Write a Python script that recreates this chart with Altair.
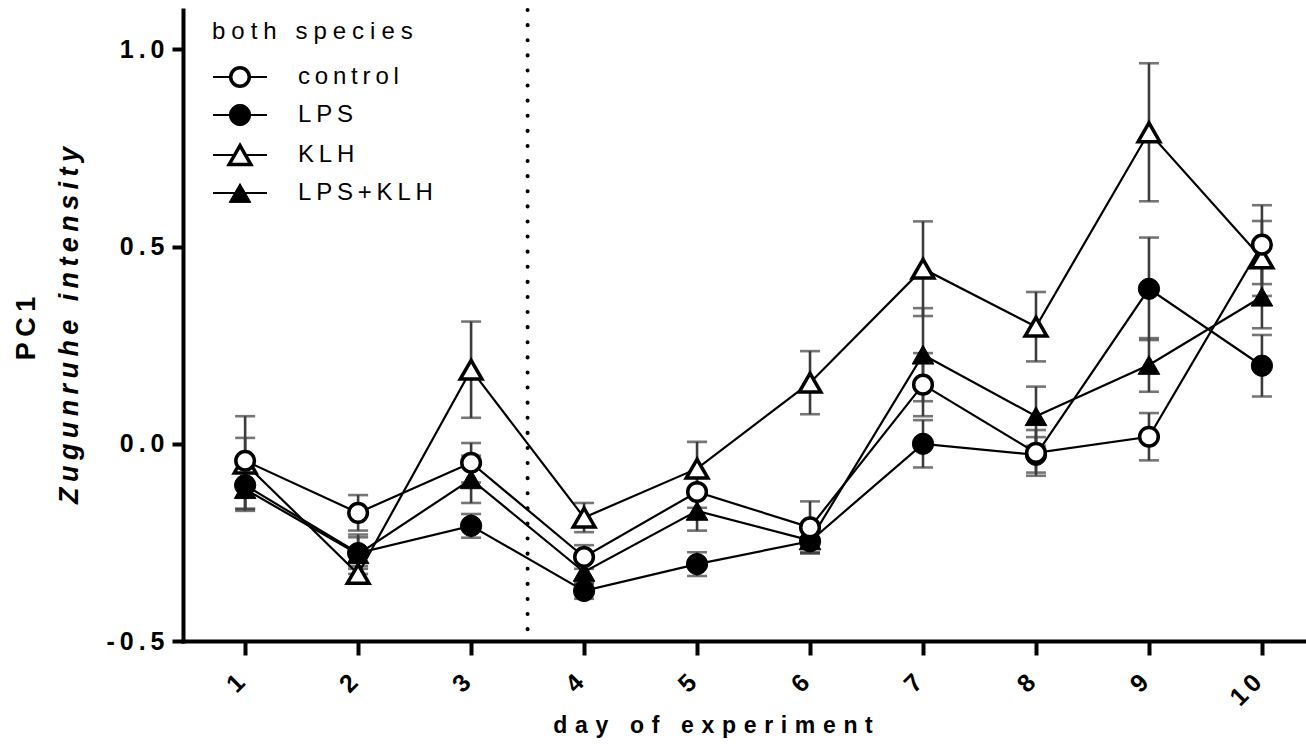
import altair as alt
import pandas as pd

# ---- data: PC1 (Zugunruhe intensity), mean and SE per day of experiment ----
days = [1, 2, 3, 4, 5, 6, 7, 8, 9, 10]
groups = ["control", "LPS", "KLH", "LPS+KLH"]

control_mean = [-0.043, -0.175, -0.048, -0.287, -0.122, -0.212, 0.150, -0.023, 0.018, 0.505]
control_se = [0.058, 0.045, 0.050, 0.030, 0.040, 0.066, 0.080, 0.058, 0.060, 0.100]
lps_mean = [-0.105, -0.277, -0.208, -0.373, -0.305, -0.247, 0.000, -0.028, 0.393, 0.198]
lps_se = [0.060, 0.040, 0.030, 0.020, 0.030, 0.030, 0.060, 0.045, 0.130, 0.078]
klh_mean = [-0.050, -0.330, 0.188, -0.187, -0.063, 0.155, 0.444, 0.297, 0.790, 0.470]
klh_se = [0.120, 0.020, 0.122, 0.037, 0.068, 0.080, 0.120, 0.088, 0.175, 0.095]
combo_mean = [-0.115, -0.280, -0.090, -0.325, -0.170, -0.245, 0.226, 0.070, 0.200, 0.373]
combo_se = [0.050, 0.050, 0.060, 0.030, 0.050, 0.030, 0.118, 0.075, 0.068, 0.080]

treatment_day = [3.5]   # dotted separator between days 3 and 4

y_ticks = [-0.5, 0.0, 0.5, 1.0]

means = [control_mean, lps_mean, klh_mean, combo_mean]
ses = [control_se, lps_se, klh_se, combo_se]

rows = []
for g, m_list, s_list in zip(groups, means, ses):
    for d, m, s in zip(days, m_list, s_list):
        rows.append({"day": d, "group": g, "mean": m, "se": s})
df = pd.DataFrame(rows)

# ---- styling ----
FONT = "Liberation Sans"
W, H = 1123, 631
ERR = "#3c3c3c"

# letter-spacing emulation with narrow Unicode spaces
SP_THIN = "\u2009"
SP_4PEM = "\u2005"
SP_3PEM = "\u2004"


def spaced(text, gap):
    return gap.join(text)


# marker style per group: shape, fill, size, stroke width
styles = {
    "control": dict(shape="circle", fill="white", size=346, strokeWidth=3.5),
    "LPS": dict(shape="circle", fill="black", size=452, strokeWidth=1),
    "KLH": dict(shape="triangle-up", fill="white", size=470, strokeWidth=3.5),
    "LPS+KLH": dict(shape="triangle-up", fill="black", size=470, strokeWidth=1),
}
# markers are stacked so that the open circles end up on top
draw_order = ["KLH", "LPS+KLH", "LPS", "control"]

x_scale = alt.Scale(domain=[0.45, 10.39], nice=False, zero=False)
y_scale = alt.Scale(domain=[-0.5, 1.1], nice=False, zero=False)

x_axis = alt.Axis(
    values=days,
    title=None,
    grid=False,
    labelExpr=f"join(split(toString(datum.value), ''), '{SP_THIN}')",
    labelAngle=315,
    labelAlign="right",
    labelBaseline="middle",
    labelPadding=23,
    labelOffset=-5,
    labelFont=FONT,
    labelFontSize=25,
    labelFontWeight="bold",
    labelColor="black",
    tickSize=14,
    tickWidth=4,
    tickColor="black",
    domainWidth=4,
    domainColor="black",
    domainCap="square",
)
y_axis = alt.Axis(
    values=y_ticks,
    title=None,
    grid=False,
    labelExpr=(
        "join(split((datum.value < 0 ? '-' : '') + format(abs(datum.value), '.1f'), ''), "
        f"'{SP_THIN}')"
    ),
    labelPadding=8,
    labelFont=FONT,
    labelFontSize=25,
    labelFontWeight="bold",
    labelColor="black",
    tickSize=11,
    tickWidth=4,
    tickColor="black",
    domainWidth=4,
    domainColor="black",
    domainCap="square",
)

X = alt.X("day:Q", scale=x_scale, axis=x_axis)


def Y(field):
    return alt.Y(f"{field}:Q", scale=y_scale, axis=y_axis)


base = alt.Chart(df).transform_calculate(
    lo="datum.mean - datum.se", hi="datum.mean + datum.se"
)

# error bars (stem + caps)
err_stem = base.mark_rule(color=ERR, strokeWidth=2.6).encode(
    x=X, y=Y("lo"), y2="hi:Q"
)
err_caps = (
    base.transform_fold(["lo", "hi"], as_=["end", "val"])
    .mark_tick(orient="horizontal", size=20, thickness=2.6, color=ERR)
    .encode(x=X, y=Y("val"))
)

# connecting lines
lines = base.mark_line(color="black", strokeWidth=2.2).encode(
    x=X, y=Y("mean"), detail="group:N"
)

# markers
point_layers = []
for g in draw_order:
    st = styles[g]
    point_layers.append(
        base.transform_filter(alt.datum.group == g)
        .mark_point(
            shape=st["shape"],
            filled=True,
            fill=st["fill"],
            stroke="black",
            strokeWidth=st["strokeWidth"],
            size=st["size"],
            opacity=1,
        )
        .encode(x=X, y=Y("mean"))
    )

# dotted separator at the treatment day
separator = (
    alt.Chart(pd.DataFrame({"day": treatment_day}))
    .mark_rule(color="black", strokeWidth=4, strokeDash=[0.1, 15], strokeCap="round")
    .encode(x=X)
)

# ---- legend (drawn inside the plot, top-left) ----
legend_layers = [
    alt.Chart(pd.DataFrame({"t": [spaced("both species", SP_4PEM)]}))
    .mark_text(align="left", baseline="middle", font=FONT, fontSize=24, color="black")
    .encode(x=alt.value(29), y=alt.value(22), text="t:N")
]
row_y = [67, 105, 145, 183]
for g, ry in zip(groups, row_y):
    st = styles[g]
    one = pd.DataFrame({"label": [spaced(g, SP_THIN)]})
    legend_layers.append(
        alt.Chart(one)
        .mark_rule(color="black", strokeWidth=2.2)
        .encode(x=alt.value(30), x2=alt.value(84), y=alt.value(ry))
    )
    legend_layers.append(
        alt.Chart(one)
        .mark_point(
            shape=st["shape"],
            filled=True,
            fill=st["fill"],
            stroke="black",
            strokeWidth=st["strokeWidth"],
            size=st["size"],
            opacity=1,
        )
        .encode(x=alt.value(57), y=alt.value(ry))
    )
    legend_layers.append(
        alt.Chart(one)
        .mark_text(align="left", baseline="middle", font=FONT, fontSize=24, color="black")
        .encode(x=alt.value(115), y=alt.value(ry), text="label:N")
    )

# ---- axis titles ----
title_pc1 = (
    alt.Chart(pd.DataFrame({"t": [spaced("PC1", SP_THIN)]}))
    .mark_text(angle=270, align="center", baseline="middle", font=FONT,
               fontSize=27, fontWeight="bold", color="black")
    .encode(x=alt.value(-156), y=alt.value(H / 2 + 3), text="t:N")
)
title_zug = (
    alt.Chart(pd.DataFrame({"t": [spaced("Zugunruhe intensity", SP_THIN)]}))
    .mark_text(angle=270, align="center", baseline="middle", font=FONT,
               fontSize=27, fontWeight="bold", fontStyle="italic", color="black")
    .encode(x=alt.value(-113), y=alt.value(H / 2), text="t:N")
)
title_x = (
    alt.Chart(pd.DataFrame({"t": [spaced("day of experiment", SP_3PEM)]}))
    .mark_text(align="center", baseline="middle", font=FONT,
               fontSize=23, fontWeight="bold", color="black")
    .encode(x=alt.value(530), y=alt.value(716), text="t:N")
)

chart = (
    alt.layer(
        separator,
        err_stem,
        err_caps,
        lines,
        *point_layers,
        *legend_layers,
        title_pc1,
        title_zug,
        title_x,
    )
    .properties(
        width=W,
        height=H,
        autosize=alt.AutoSizeParams(type="none"),
        padding={"left": 183, "top": 10, "right": 0, "bottom": 114},
        background="white",
    )
    .configure_view(stroke=None)
)

chart.save("out.html", embed_options={"renderer": "svg", "actions": False})
